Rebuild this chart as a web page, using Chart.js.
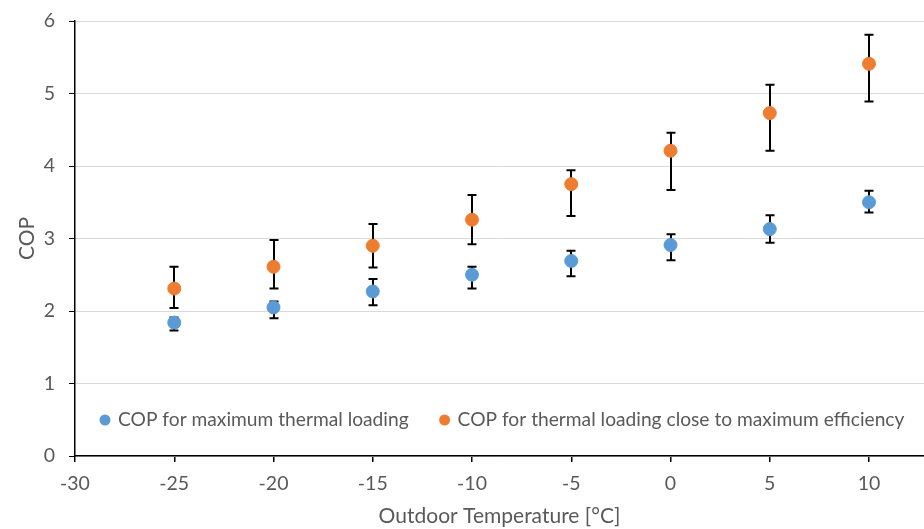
<!DOCTYPE html>
<html>
<head>
<meta charset="utf-8">
<script src="https://cdn.jsdelivr.net/npm/chart.js@4.4.1/dist/chart.umd.min.js"></script>
<style>
  html, body { margin: 0; padding: 0; background: #fff; overflow: hidden; }
  canvas { display: block; }
</style>
</head>
<body>
<canvas id="c" width="924" height="529"></canvas>
<script>
// ---- Data ----
const temperatures = [-25, -20, -15, -10, -5, 0, 5, 10];

const copMaxLoad      = [1.84, 2.05, 2.27, 2.50, 2.69, 2.91, 3.13, 3.50];
const copMaxLoadLow   = [1.73, 1.90, 2.08, 2.31, 2.48, 2.70, 2.94, 3.36];
const copMaxLoadHigh  = [1.91, 2.13, 2.44, 2.61, 2.83, 3.06, 3.32, 3.66];

const copMaxEff       = [2.31, 2.61, 2.90, 3.26, 3.75, 4.21, 4.73, 5.41];
const copMaxEffLow    = [2.04, 2.31, 2.60, 2.92, 3.31, 3.67, 4.21, 4.89];
const copMaxEffHigh   = [2.61, 2.98, 3.20, 3.60, 3.94, 4.46, 5.12, 5.81];

const seriesLabels = [
  'COP for maximum thermal loading',
  'COP for thermal loading close to maximum efficiency'
];
const xTitle = 'Outdoor Temperature [°C]';
const yTitle = 'COP';

// ---- Styling ----
const BLUE = '#5B9BD5';
const ORANGE = '#ED7D31';
const TEXT = '#595959';
const FONT = 'Lato, "Open Sans", sans-serif';

function pts(xs, ys) { return xs.map((x, i) => ({ x: x, y: ys[i] })); }

const errorBarPlugin = {
  id: 'errorBars',
  beforeDatasetsDraw(chart) {
    const ctx = chart.ctx;
    const xs = chart.scales.x, ys = chart.scales.y;
    const sets = [[copMaxLoadLow, copMaxLoadHigh], [copMaxEffLow, copMaxEffHigh]];
    ctx.save();
    ctx.strokeStyle = '#000';
    ctx.lineWidth = 2;
    const cap = 4.5;
    sets.forEach(([lo, hi]) => {
      temperatures.forEach((t, i) => {
        const px = Math.round(xs.getPixelForValue(t));
        const pLo = ys.getPixelForValue(lo[i]);
        const pHi = ys.getPixelForValue(hi[i]);
        ctx.beginPath();
        ctx.moveTo(px, pLo); ctx.lineTo(px, pHi);
        ctx.moveTo(px - cap, pLo); ctx.lineTo(px + cap, pLo);
        ctx.moveTo(px - cap, pHi); ctx.lineTo(px + cap, pHi);
        ctx.stroke();
      });
    });
    ctx.restore();
  }
};

const innerLegendPlugin = {
  id: 'innerLegend',
  afterDraw(chart) {
    const ctx = chart.ctx;
    const area = chart.chartArea;
    ctx.save();
    ctx.font = '19.2px ' + FONT;
    ctx.textBaseline = 'middle';
    ctx.fillStyle = TEXT;
    let x = area.left + 30;
    const y = area.bottom - 36;
    chart.data.datasets.forEach((ds, i) => {
      ctx.beginPath();
      ctx.fillStyle = ds.backgroundColor;
      ctx.arc(x, y, 5.5, 0, Math.PI * 2);
      ctx.fill();
      ctx.fillStyle = TEXT;
      ctx.fillText(ds.label, x + 13, y);
      x += 13 + ctx.measureText(ds.label).width + 36;
    });
    ctx.restore();
  }
};

new Chart(document.getElementById('c'), {
  type: 'scatter',
  data: {
    datasets: [
      { label: seriesLabels[0], data: pts(temperatures, copMaxLoad),
        backgroundColor: BLUE, borderColor: BLUE, pointRadius: 6.5, pointHoverRadius: 6.5 },
      { label: seriesLabels[1], data: pts(temperatures, copMaxEff),
        backgroundColor: ORANGE, borderColor: ORANGE, pointRadius: 6.5, pointHoverRadius: 6.5 }
    ]
  },
  options: {
    responsive: false,
    animation: false,
    devicePixelRatio: 1,
    layout: { autoPadding: false, padding: { top: 21, right: 0, left: 0, bottom: 0 } },
    plugins: { legend: { display: false }, tooltip: { enabled: false } },
    scales: {
      x: {
        type: 'linear',
        min: -30, max: 12.77,
        ticks: { stepSize: 5, includeBounds: false, color: TEXT, font: { family: FONT, size: 19.5 }, padding: 10 },
        grid: { drawOnChartArea: false, color: '#000', tickColor: '#000', tickLength: 6, lineWidth: 1.5 },
        border: { color: '#000', width: 1.5 },
        title: { display: true, text: xTitle, color: TEXT, font: { family: FONT, size: 21 }, padding: { top: 4, bottom: 0 } },
        afterFit(scale) { scale.height = 73; scale.paddingRight = 0; scale.paddingLeft = 0; }
      },
      y: {
        min: 0, max: 6,
        ticks: { stepSize: 1, color: TEXT, font: { family: FONT, size: 19.5 }, padding: 14 },
        grid: { color: '#d9d9d9', tickColor: '#000', tickLength: 6, lineWidth: 1 },
        border: { color: '#000', width: 1.5 },
        title: { display: true, text: yTitle, color: TEXT, font: { family: FONT, size: 21 }, padding: { top: 15, bottom: 0 } },
        afterFit(scale) { scale.width = 75; scale.paddingTop = 0; scale.paddingBottom = 0; scale.paddingLeft = 0; scale.paddingRight = 0; }
      }
    }
  },
  plugins: [errorBarPlugin, innerLegendPlugin]
});
</script>
</body>
</html>
